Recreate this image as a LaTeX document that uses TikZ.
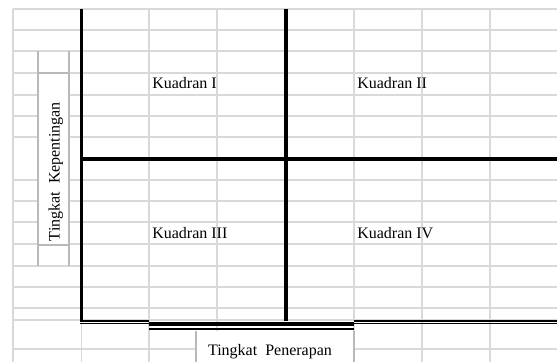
\documentclass[tikz,border=0pt]{standalone}
\usepackage{fontspec}
\setmainfont{Liberation Serif}
\begin{document}
\begin{tikzpicture}[x=0.75pt, y=-0.75pt,
  grid/.style={draw=gray!30, line width=1pt},
  boxline/.style={draw=gray!55, line width=1pt},
  axisline/.style={draw=black, line width=2.5pt},
  quad/.style={font=\fontsize{12}{14}\selectfont, anchor=west, inner sep=0pt},
  axlabel/.style={font=\fontsize{12}{14}\selectfont, anchor=base, inner sep=0pt}
]
\useasboundingbox (0,0) rectangle (557,362);

%% Sheet rows
\foreach \y in {9,30,51,73,95,116,137,180,201,222,244,266,287,308,320,349} {
  \draw[grid] (13,\y) -- (557,\y);
}
%% Sheet columns
\foreach \x in {13,149,217,354,422,490} {
  \draw[grid] (\x,9) -- (\x,362);
}
\draw[grid] (81.7,322) -- (81.7,362);

%% Box of the vertical label
\draw[boxline] (38,51) -- (38,266);
\draw[boxline] (69,51) -- (69,266);
\draw[boxline, fill=white] (38,73) rectangle (69,245);

%% Box of the horizontal label
\fill[white] (196,331) rectangle (355,363);
\draw[boxline] (196,331) -- (196,362);
\draw[boxline] (354,331) -- (354,362);

%% Axis and quadrant dividers
\draw[axisline] (81.7,9) -- (81.7,321);
\draw[axisline] (286,9) -- (286,321);
\draw[axisline] (80,159) -- (557,159);
\draw[black, line width=1.1pt] (80,321.2) -- (149,321.2) (354,321.2) -- (557,321.2);
\draw[black, line width=1pt] (80,323.8) -- (149,323.8) (354,323.8) -- (557,323.8);
\draw[black, line width=3pt] (149,323.5) -- (354,323.5);
\draw[black, line width=1.7pt] (149,329) -- (354,329);

%% Labels
\node[quad] (kuadran1) at (152,83) {Kuadran I};
\node[quad] (kuadran2) at (357,83) {Kuadran II};
\node[quad] (kuadran3) at (152,233) {Kuadran III};
\node[quad] (kuadran4) at (357,233) {Kuadran IV};
\node[axlabel] (penerapan) at (270,355) {Tingkat\ \ Penerapan};
\node[axlabel, rotate=90] (kepentingan) at (59.5,171.7) {Tingkat\ \ Kepentingan};
\end{tikzpicture}
\end{document}
